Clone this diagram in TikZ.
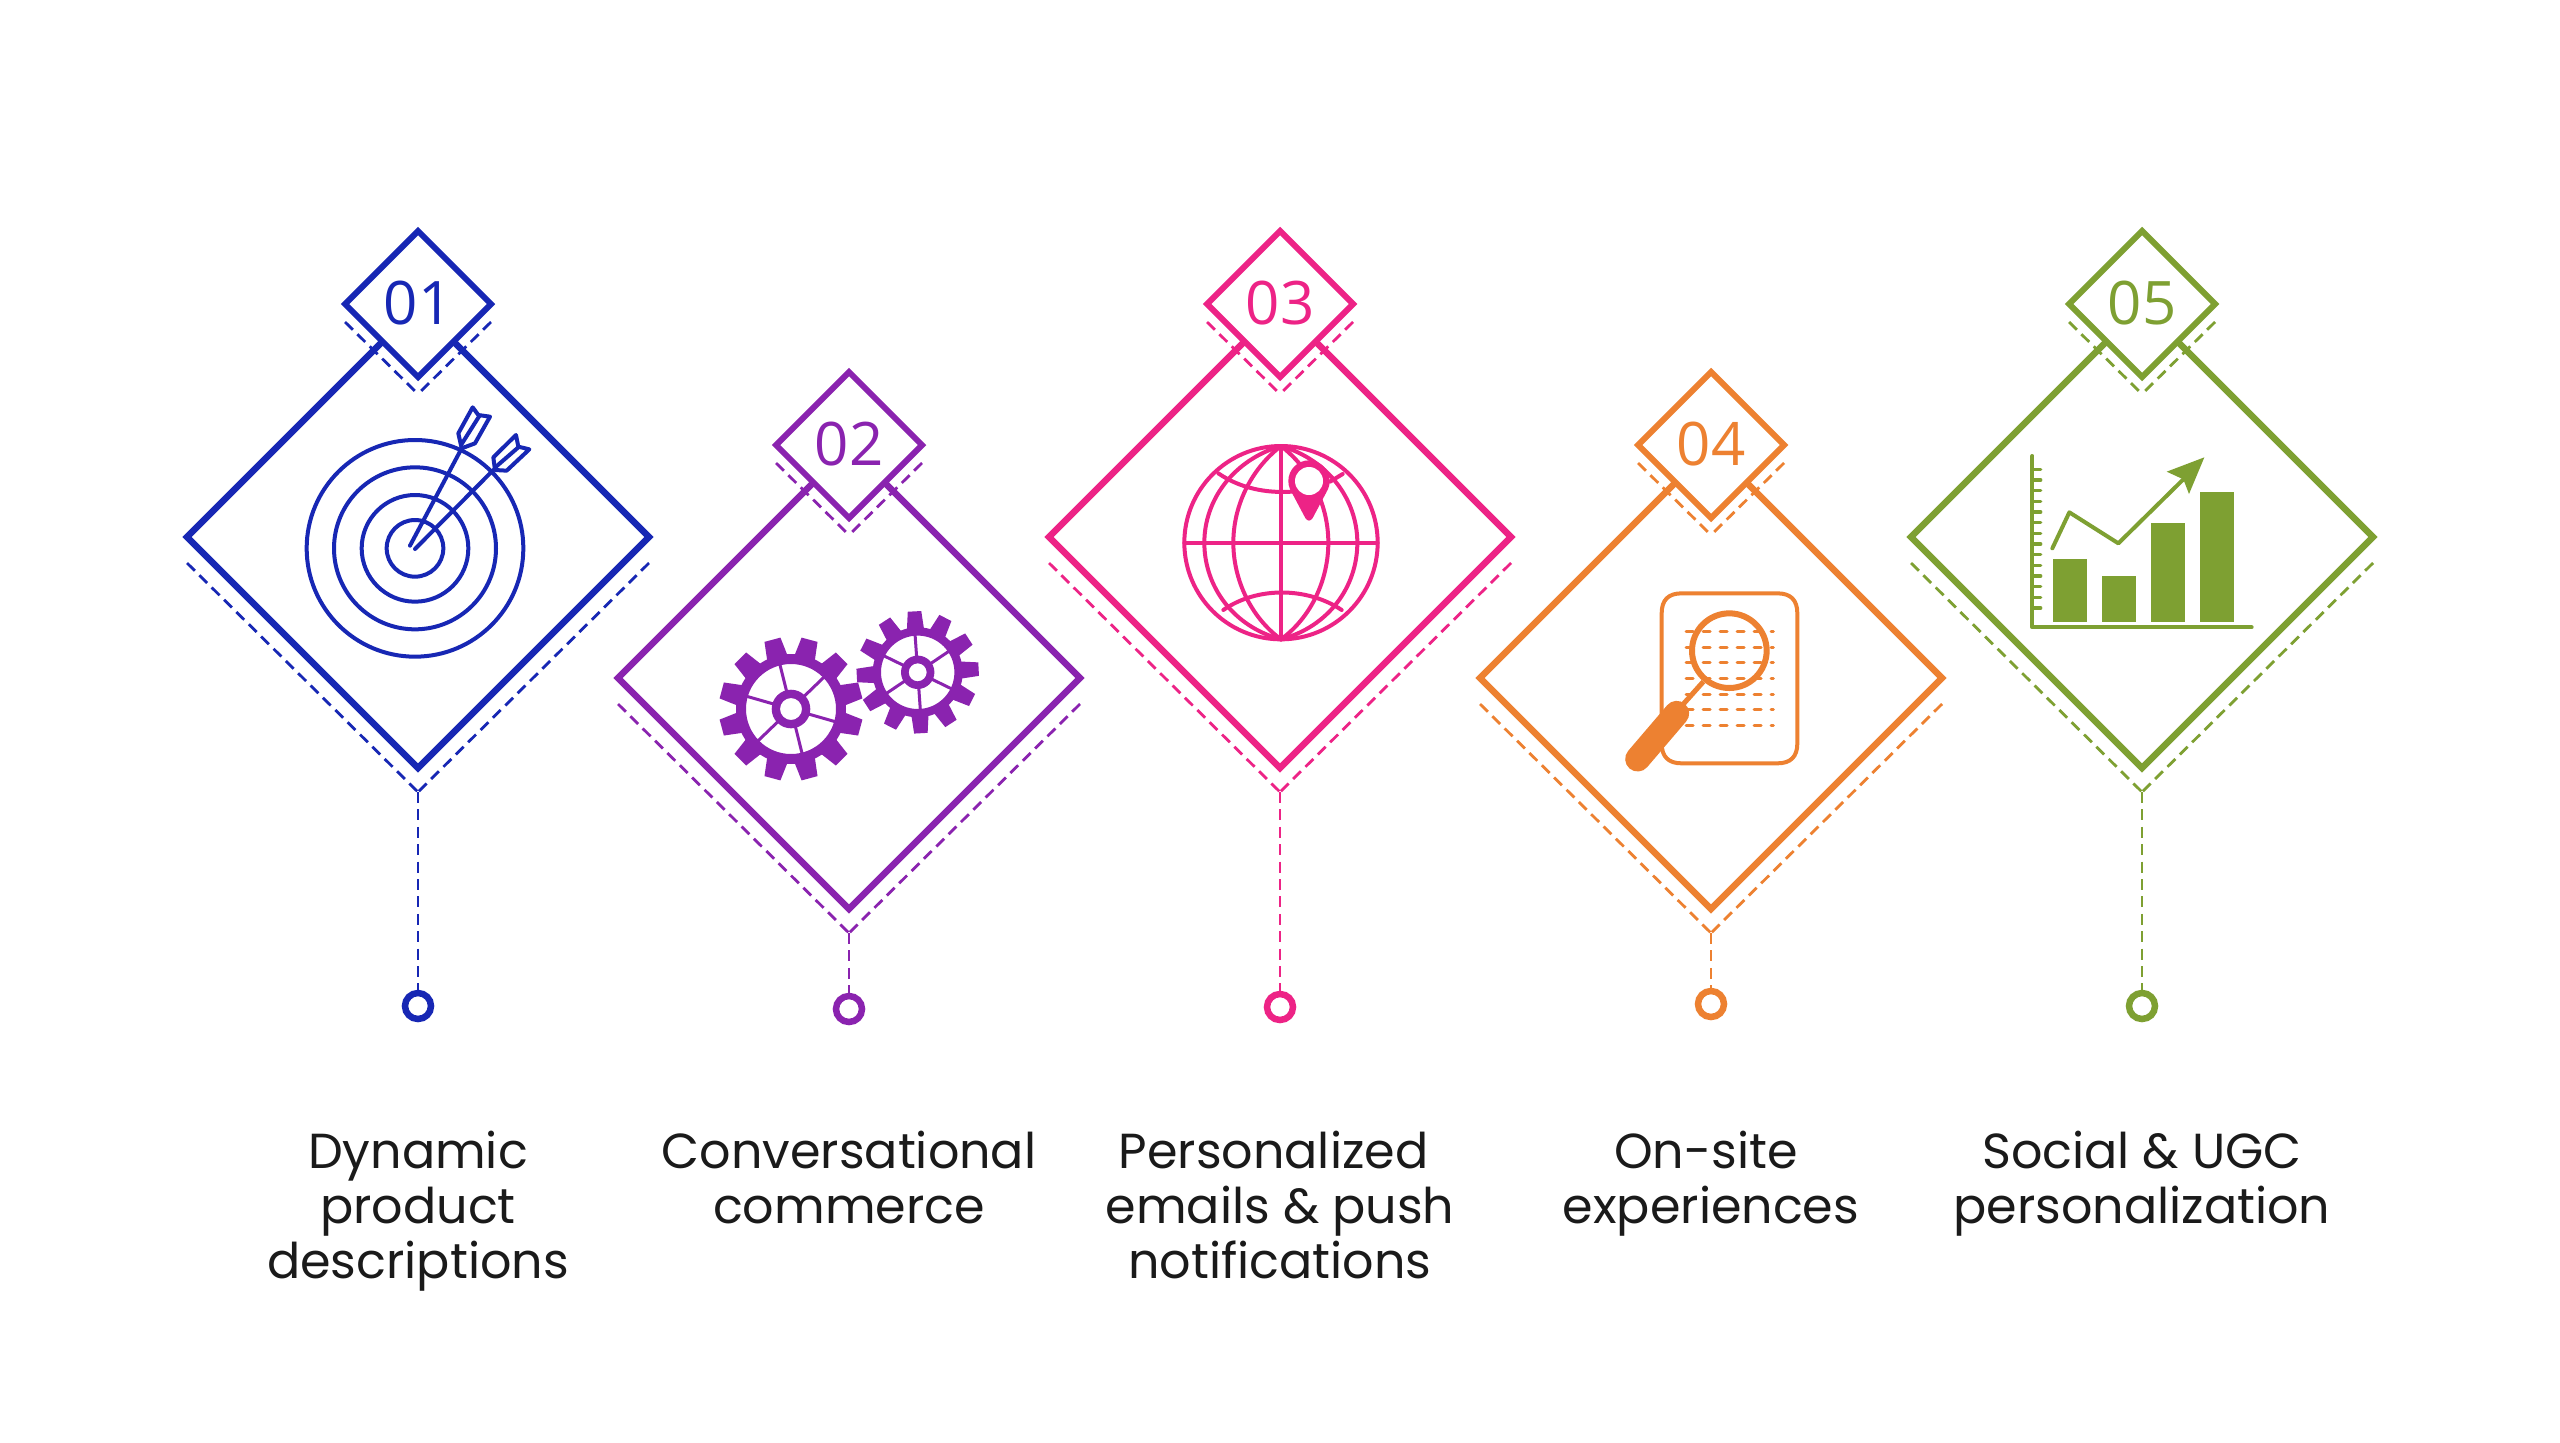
\documentclass[tikz,border=0pt]{standalone}
\usepackage{fontspec}
\setmainfont{Poppins}
\newfontfamily\numfont{Open Sans}
\usetikzlibrary{shapes.geometric}
\definecolor{cblue}{HTML}{1727B4}
\definecolor{cpurple}{HTML}{8A23AF}
\definecolor{cpink}{HTML}{ED2386}
\definecolor{corange}{HTML}{ED8131}
\definecolor{cgreen}{HTML}{7EA032}
\definecolor{ctext}{HTML}{1A1A1A}
\tikzset{
  x=1pt,y=-1pt,
  bigdia/.style={diamond,aspect=1,draw,line width=6.5pt,minimum width=462pt,minimum height=462pt,inner sep=0pt,outer sep=0pt,line join=miter},
  smalldia/.style={diamond,aspect=1,draw,fill=white,line width=6pt,minimum width=146pt,minimum height=146pt,inner sep=0pt,outer sep=0pt,line join=miter,font=\numfont\fontsize{60}{60}\selectfont},
  dashline/.style={line width=2.8pt,dash pattern=on 11pt off 6.4pt},
  dot/.style={circle,draw,fill=white,line width=6.5pt,minimum size=26pt,inner sep=0pt,outer sep=0pt},
  caption/.style={anchor=north,align=center,inner sep=0pt,text=ctext,font=\fontsize{49.2}{55}\selectfont},
  icon/.style={line width=4pt,line cap=round,line join=round},
}
\newcommand{\capstrut}{\rule{0pt}{40pt}}
\newcommand{\gearicon}[9]{% cx cy hole hub rimin rimout tip toothangle spokeangle
  \fill[cpurple,even odd rule] (#1,#2) circle[radius=#6] (#1,#2) circle[radius=#5];
  \fill[cpurple,even odd rule] (#1,#2) circle[radius=#4] (#1,#2) circle[radius=#3];
  \foreach \ta in {0,30,...,330}{
    \fill[cpurple,shift={(#1,#2)},rotate=#8+\ta] (#6-2,-0.19*#6) -- (#7,-0.15*#6) -- (#7,0.15*#6) -- (#6-2,0.19*#6) -- cycle;
  }
  \foreach \sa in {0,60,...,300}{
    \fill[cpurple,shift={(#1,#2)},rotate=#9+\sa] (#4-1,-1.5) rectangle (#5+1,1.5);
  }
}
\begin{document}
\begin{tikzpicture}
\useasboundingbox[fill=white] (0,0) rectangle (2560,1443);
\foreach \i/\cx/\cy/\ydot/\col/\num in {1/418/537/1006/cblue/01,2/849/678/1009/cpurple/02,3/1280/537/1007/cpink/03,4/1711/678/1004/corange/04,5/2142/537/1006/cgreen/05}{
  \node[bigdia,draw=\col] (big\i) at (\cx,\cy) {};
  \node[smalldia,draw=\col,text=\col] (num\i) at (\cx,\cy-233) {\raisebox{3pt}{\num}};
  \coordinate (sl\i) at (\cx-73,\cy-233+18);
  \coordinate (sm\i) at (\cx,\cy-233+90);
  \coordinate (sr\i) at (\cx+73,\cy-233+18);
  \coordinate (bl\i) at (\cx-231,\cy+26);
  \coordinate (bm\i) at (\cx,\cy+255);
  \coordinate (br\i) at (\cx+231,\cy+26);
  \draw[dashline,\col] (sl\i) -- (sm\i);
  \draw[dashline,\col] (sr\i) -- (sm\i);
  \draw[dashline,\col] (bl\i) -- (bm\i);
  \draw[dashline,\col] (br\i) -- (bm\i);
  \node[dot,draw=\col] (dot\i) at (\cx,\ydot) {};
  \draw[dashline,\col] (bm\i) -- (dot\i.north);
}
% captions
\node[caption] (cap1) at (418,1128) {\capstrut Dynamic\\product\\descriptions};
\node[caption] (cap2) at (849,1128) {\capstrut Conversational\\commerce};
\node[caption] (cap3) at (1280,1128) {\capstrut Personalized\kern13pt\\emails \& push\\notifications};
\node[caption] (cap4) at (1711,1128) {\capstrut On-site\kern10pt\\experiences};
\node[caption] (cap5) at (2142,1128) {\capstrut Social \& UGC\\personalization};
% target icon
\begin{scope}[shift={(280,400)},scale=1/3,icon,draw=cblue]
  \draw (405,445) circle[radius=325];
  \draw (405,445) circle[radius=243];
  \draw (405,445) circle[radius=160];
  \draw (405,445) circle[radius=85];
  \draw (390,437) -- (545,145);
  \draw (535,100) -- (578,22) -- (595,45) -- (630,50) -- (585,130) -- (545,145) -- cycle;
  \draw (545,132) -- (598,48);
  \draw (405,447) -- (640,210);
  \draw (640,172) -- (708,105) -- (715,140) -- (748,148) -- (680,212) -- (645,210) -- cycle;
  \draw (648,200) -- (715,142);
\end{scope}
% gears
\gearicon{791}{709}{11}{19.3}{45}{55}{71.7}{15}{44}
\gearicon{917.7}{672.3}{9}{16.7}{36.7}{45}{61}{3}{34}
% globe icon
\begin{scope}[shift={(1150,420)},scale=1/3,icon,draw=cpink,line width=4pt]
  \draw (393,368) circle[radius=290];
  \draw (393,78) -- (393,658);
  \draw (103,368) -- (683,368);
  \draw (393,78) .. controls (300,150) and (250,260) .. (250,368) .. controls (250,476) and (300,590) .. (393,658);
  \draw (393,78) .. controls (486,150) and (535,260) .. (535,368) .. controls (535,476) and (486,590) .. (393,658);
  \draw (393,78) .. controls (250,120) and (163,240) .. (163,368) .. controls (163,500) and (250,620) .. (393,658);
  \draw (393,78) .. controls (536,120) and (622,240) .. (622,368) .. controls (622,500) and (536,620) .. (393,658);
  \draw (205,160) .. controls (270,205) and (350,220) .. (425,215);
  \draw (540,185) -- (578,162);
  \draw (220,570) .. controls (320,500) and (470,500) .. (575,570);
  \fill[cpink] (477,183) circle[radius=62];
  \fill[cpink] (425,217) -- (529,217) -- (487,296) -- (467,296) -- cycle;
  \fill[cpink] (477,292) circle[radius=10];
  \fill[white] (477,183) circle[radius=42];
\end{scope}
% document icon
\begin{scope}[shift={(1600,570)},scale=1/3,icon,draw=corange]
  \draw[line width=4pt] (185,130) .. controls (185,90) and (205,70) .. (245,70) -- (532,70) .. controls (572,70) and (592,90) .. (592,130) -- (592,520) .. controls (592,560) and (572,580) .. (532,580) -- (245,580) .. controls (205,580) and (185,560) .. (185,520) -- cycle;
  \foreach \ly in {184,231,278,325,372,419,465}{
    \draw[line width=3pt,line cap=round,dash pattern=on 7pt off 10pt] (258,\ly) -- (520,\ly);
  }
  \draw[line width=6pt] (388,242) circle[radius=112];
  \draw[line width=5pt,line cap=butt] (310,335) -- (225,430);
  \draw[line width=25pt] (230,430) -- (113,567);
\end{scope}
% chart icon
\begin{scope}[shift={(2010,430)},scale=1/3,icon,draw=cgreen]
  \draw[line width=4pt] (67,78) -- (67,592) -- (725,592);
  \foreach \ty in {118,150,...,537}{
    \draw[line width=3.4pt] (67,\ty) -- (92,\ty);
  }
  \fill[cgreen] (128,386) rectangle (230,576);
  \fill[cgreen] (275,438) rectangle (377,576);
  \fill[cgreen] (423,278) rectangle (525,576);
  \fill[cgreen] (570,185) rectangle (673,576);
  \draw[line width=4pt] (127,355) -- (178,247) -- (325,340) -- (520,148);
  \fill[cgreen] (583,82) -- (470,125) -- (520,148) -- (537,192) -- cycle;
\end{scope}
\end{tikzpicture}
\end{document}
